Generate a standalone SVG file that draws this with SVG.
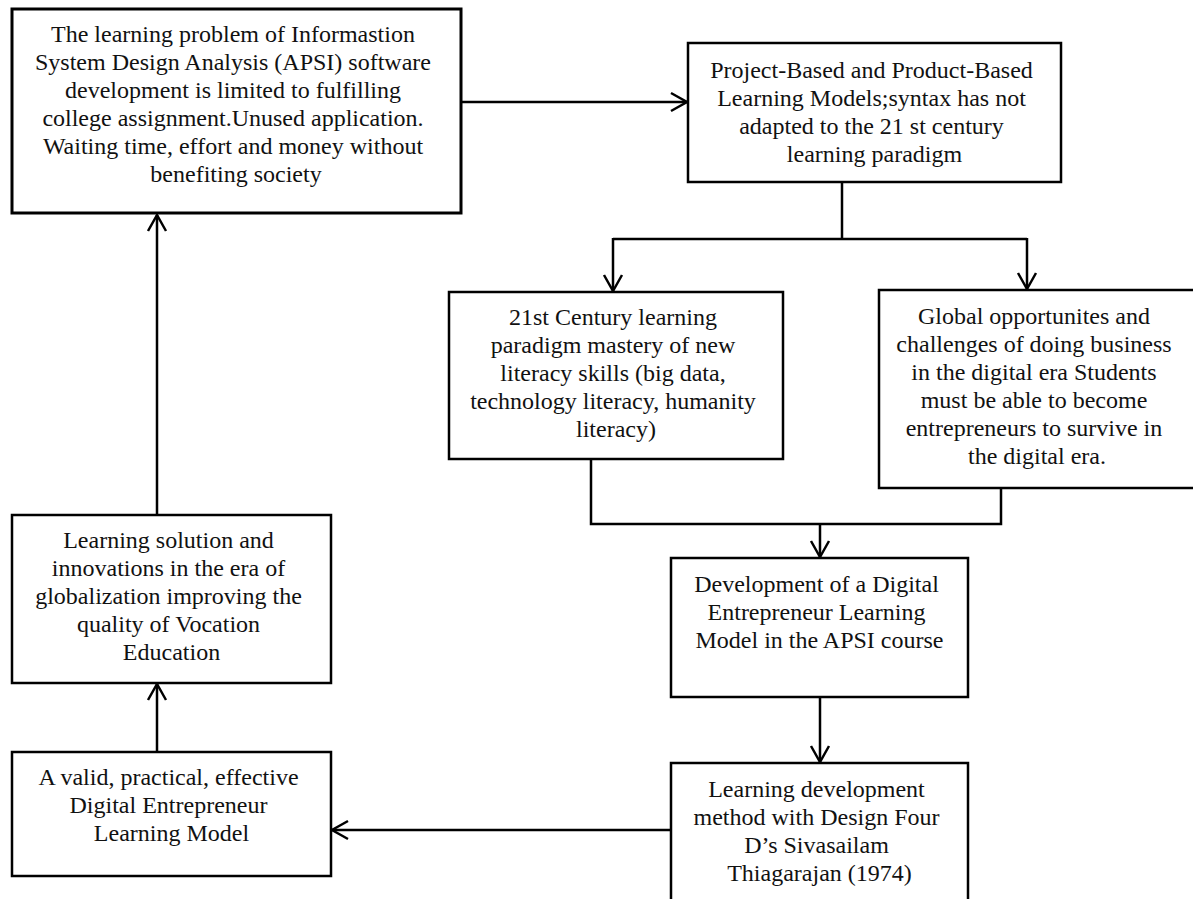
<svg xmlns="http://www.w3.org/2000/svg" width="1193" height="899" viewBox="0 0 1193 899">
  <style>
    .box { fill: #ffffff; stroke: #000000; stroke-width: 2.5; }
    .box-heavy { fill: #ffffff; stroke: #000000; stroke-width: 3; }
    .label { font-family: "Liberation Serif", "Times New Roman", serif; font-size: 24px; fill: #111111; text-anchor: middle; }
    .wire { fill: none; stroke: #000000; stroke-width: 2.5; }
    .arrow { fill: none; stroke: #000000; stroke-width: 2.5; marker-end: url(#open-arrow); }
  </style>
  <defs>
    <marker id="open-arrow" markerUnits="userSpaceOnUse" markerWidth="24" markerHeight="24" viewBox="0 0 24 24" refX="20" refY="12" orient="auto">
      <path d="M4,3 L20,12 L4,21" fill="none" stroke="#000000" stroke-width="2.5" stroke-linejoin="miter"/>
    </marker>
  </defs>

  <rect x="0" y="0" width="1193" height="899" fill="#ffffff"/>

  <!-- connectors -->
  <g id="connectors">
    <!-- problem -> learning models -->
    <line class="arrow" x1="461" y1="102" x2="687" y2="102"/>
    <!-- learning models splits into two branches -->
    <polyline class="wire" points="842,182 842,239"/>
    <polyline class="wire" points="613,239 1027,239"/>
    <line class="arrow" x1="613" y1="238" x2="613" y2="291"/>
    <line class="arrow" x1="1027" y1="238" x2="1027" y2="289"/>
    <!-- both branches merge into development box -->
    <polyline class="wire" points="591,459 591,524 1001,524 1001,488"/>
    <line class="arrow" x1="820" y1="524" x2="820" y2="557"/>
    <!-- development -> method -->
    <line class="arrow" x1="820" y1="697" x2="820" y2="762"/>
    <!-- method -> valid model -->
    <line class="arrow" x1="671" y1="830" x2="332" y2="830"/>
    <!-- valid model -> solution -->
    <line class="arrow" x1="157" y1="752" x2="157" y2="684"/>
    <!-- solution -> problem -->
    <line class="arrow" x1="157" y1="526" x2="157" y2="215"/>
  </g>

  <g id="node-problem">
    <rect class="box-heavy" x="12" y="9" width="449" height="204"/>
    <text class="label">
      <tspan x="236" y="42">The learning problem of Informastion</tspan>
      <tspan x="236" y="70">System Design Analysis (APSI) software</tspan>
      <tspan x="236" y="98">development is limited to fulfilling</tspan>
      <tspan x="236" y="126">college assignment.Unused application.</tspan>
      <tspan x="236" y="154">Waiting time, effort and money without</tspan>
      <tspan x="236" y="182">benefiting society</tspan>
    </text>
  </g>

  <g id="node-learning-models">
    <rect class="box" x="688" y="43" width="373" height="139"/>
    <text class="label">
      <tspan x="874.5" y="78">Project-Based and Product-Based</tspan>
      <tspan x="874.5" y="106">Learning Models;syntax has not</tspan>
      <tspan x="874.5" y="134">adapted to the 21 st century</tspan>
      <tspan x="874.5" y="162">learning paradigm</tspan>
    </text>
  </g>

  <g id="node-21st-century">
    <rect class="box" x="449" y="292" width="334" height="167"/>
    <text class="label">
      <tspan x="616" y="325">21st Century learning</tspan>
      <tspan x="616" y="353">paradigm mastery of new</tspan>
      <tspan x="616" y="381">literacy skills (big data,</tspan>
      <tspan x="616" y="409">technology literacy, humanity</tspan>
      <tspan x="616" y="437">literacy)</tspan>
    </text>
  </g>

  <g id="node-global">
    <rect class="box" x="879" y="290" width="316" height="198"/>
    <text class="label">
      <tspan x="1037" y="324">Global opportunites and</tspan>
      <tspan x="1037" y="352">challenges of doing business</tspan>
      <tspan x="1037" y="380">in the digital era Students</tspan>
      <tspan x="1037" y="408">must be able to become</tspan>
      <tspan x="1037" y="436">entrepreneurs to survive in</tspan>
      <tspan x="1037" y="464">the digital era.</tspan>
    </text>
  </g>

  <g id="node-development">
    <rect class="box" x="671" y="558" width="297" height="139"/>
    <text class="label">
      <tspan x="819.5" y="592">Development of a Digital</tspan>
      <tspan x="819.5" y="620">Entrepreneur Learning</tspan>
      <tspan x="819.5" y="648">Model in the APSI course</tspan>
    </text>
  </g>

  <g id="node-method">
    <rect class="box" x="671" y="763" width="297" height="145"/>
    <text class="label">
      <tspan x="819.5" y="797">Learning development</tspan>
      <tspan x="819.5" y="825">method with Design Four</tspan>
      <tspan x="819.5" y="853">D’s Sivasailam</tspan>
      <tspan x="819.5" y="881">Thiagarajan (1974)</tspan>
    </text>
  </g>

  <g id="node-valid-model">
    <rect class="box" x="12" y="752" width="319" height="124"/>
    <text class="label">
      <tspan x="171.5" y="785">A valid, practical, effective</tspan>
      <tspan x="171.5" y="813">Digital Entrepreneur</tspan>
      <tspan x="171.5" y="841">Learning Model</tspan>
    </text>
  </g>

  <g id="node-solution">
    <rect class="box" x="12" y="515" width="319" height="168"/>
    <text class="label">
      <tspan x="171.5" y="548">Learning solution and</tspan>
      <tspan x="171.5" y="576">innovations in the era of</tspan>
      <tspan x="171.5" y="604">globalization improving the</tspan>
      <tspan x="171.5" y="632">quality of Vocation</tspan>
      <tspan x="171.5" y="660">Education</tspan>
    </text>
  </g>
</svg>
